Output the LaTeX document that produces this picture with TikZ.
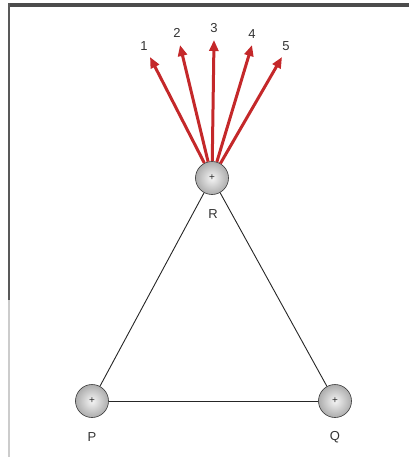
\documentclass[tikz,border=0pt]{standalone}
\usepackage{fontspec}
\setmainfont{Liberation Sans}
\usetikzlibrary{arrows.meta}
\definecolor{fieldred}{RGB}{196,40,42}

\begin{document}
\begin{tikzpicture}[x=1pt, y=-1pt,
    charge/.style={circle, inner color=gray!8, outer color=gray!65, draw=gray!45!black,
      line width=0.6pt, minimum size=33pt, inner sep=0pt,
      font=\fontsize{10}{10}\selectfont, text=black!85},
    bond/.style={draw=black!85, line width=0.9pt},
    field/.style={draw=fieldred, line width=3pt, -{Triangle[length=11pt,width=9pt]}},
    lbl/.style={font=\fontsize{13}{13}\selectfont, text=black!80}]
  \useasboundingbox (0,0) rectangle (409,457);
  % Frame
  \fill[black!70] (8,3) rectangle (409,7);
  \fill[black!65] (8,3) rectangle (10,300);
  \fill[black!20] (8,300) rectangle (10,457);

  % Charges
  \node[charge] (R) at (212,178) {+};
  \node[charge] (P) at (92,401) {+};
  \node[charge] (Q) at (335,401) {+};
  \node[lbl] (Rl) at (213,214) {R};
  \node[lbl] (Pl) at (92,437) {P};
  \node[lbl] (Ql) at (335,437) {Q};

  % Arrow tips
  \coordinate (t1) at (150,57);
  \coordinate (t2) at (180,45);
  \coordinate (t3) at (214,40);
  \coordinate (t4) at (252,45);
  \coordinate (t5) at (282,57);
  \node[lbl] (n1) at (144,46) {1};
  \node[lbl] (n2) at (177,33) {2};
  \node[lbl] (n3) at (214,28) {3};
  \node[lbl] (n4) at (252,34) {4};
  \node[lbl] (n5) at (286,46) {5};

  % Connections
  \draw[bond] (R) -- (P);
  \draw[bond] (R) -- (Q);
  \draw[bond] (P) -- (Q);
  \foreach \i in {1,...,5}
    \draw[field] (R) -- (t\i);
\end{tikzpicture}
\end{document}
